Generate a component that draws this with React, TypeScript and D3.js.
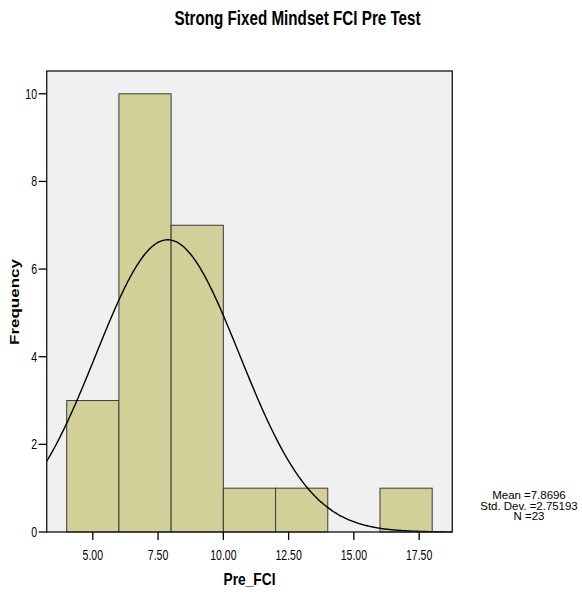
import React from "react";
import * as d3 from "d3";

const binStarts = [4, 6, 8, 10, 12, 14, 16];
const binWidth = 2;
const counts = [3, 10, 7, 1, 1, 0, 1];
const xTicks = [5, 7.5, 10, 12.5, 15, 17.5];
const yTicks = [0, 2, 4, 6, 8, 10];
const mean = 7.8696;
const sd = 2.75193;
const n = 23;
const title = "Strong Fixed Mindset FCI Pre Test";
const xLabel = "Pre_FCI";
const yLabel = "Frequency";
const statLines = ["Mean =7.8696", "Std. Dev. =2.75193", "N =23"];

const W = 582;
const H = 594;
const L = 46.7, R = 452.3, T = 71, B = 532;
const FONT = "'Liberation Sans', Arial, Helvetica, sans-serif";

function CText(props: any) {
  const { x, y, size, weight = "normal", sx = 1, anchor = "middle", rotate = 0, children } = props;
  const tr = rotate
    ? `translate(${x},${y}) rotate(${rotate}) scale(1,${sx})`
    : `translate(${x},${y}) scale(${sx},1)`;
  return (
    <text transform={tr} fontFamily={FONT} fontSize={size} fontWeight={weight} textAnchor={anchor} fill="#000">
      {children}
    </text>
  );
}

export default function App() {
  const x = d3.scaleLinear().domain([3.234, 18.77]).range([L, R]);
  const y = d3.scaleLinear().domain([0, 10.52]).range([B, T]);
  const pdf = (v: number) =>
    (n * binWidth) / (sd * Math.sqrt(2 * Math.PI)) * Math.exp(-0.5 * ((v - mean) / sd) ** 2);
  const xs = d3.range(0, 301).map((i) => 3.234 + (i / 300) * (18.77 - 3.234));
  const line = d3
    .line<number>()
    .x((v) => x(v))
    .y((v) => y(pdf(v)))
    .curve(d3.curveBasis);

  return (
    <svg width={W} height={H} style={{ display: "block", position: "absolute", left: 0, top: 0 }}>
      <rect x={0} y={0} width={W} height={H} fill="#fff" />
      <CText x={297.5} y={25} size={20} weight="bold" sx={0.76}>{title}</CText>
      <rect x={L} y={T} width={R - L} height={B - T} fill="#f0f0f0" />
      {binStarts.map((s, i) =>
        counts[i] > 0 ? (
          <rect
            key={i}
            x={x(s)}
            y={y(counts[i])}
            width={x(s + binWidth) - x(s)}
            height={B - y(counts[i])}
            fill="#d3cf98"
            stroke="#3a3a3a"
            strokeWidth={1}
          />
        ) : null
      )}
      <path d={line(xs) || ""} fill="none" stroke="#000" strokeWidth={1.4} />
      <rect x={L} y={T} width={R - L} height={B - T} fill="none" stroke="#222" strokeWidth={1.4} />
      {yTicks.map((t) => (
        <g key={t}>
          <line x1={L - 8} x2={L} y1={y(t)} y2={y(t)} stroke="#000" strokeWidth={1.3} />
          <CText x={37} y={y(t) + 5} size={14} sx={0.75} anchor="end">{String(t)}</CText>
        </g>
      ))}
      {xTicks.map((t) => (
        <g key={t}>
          <line x1={x(t)} x2={x(t)} y1={B} y2={B + 8} stroke="#000" strokeWidth={1.3} />
          <CText x={x(t)} y={560} size={14} sx={0.75}>{t.toFixed(2)}</CText>
        </g>
      ))}
      <CText x={(L + R) / 2} y={585} size={16} weight="bold" sx={0.86}>{xLabel}</CText>
      <CText x={19} y={302} size={17} weight="bold" sx={0.8} rotate={-90}>{yLabel}</CText>
      {statLines.map((s, i) => (
        <CText key={i} x={529} y={499 + i * 10.5} size={11} sx={1.04}>{s}</CText>
      ))}
    </svg>
  );
}
